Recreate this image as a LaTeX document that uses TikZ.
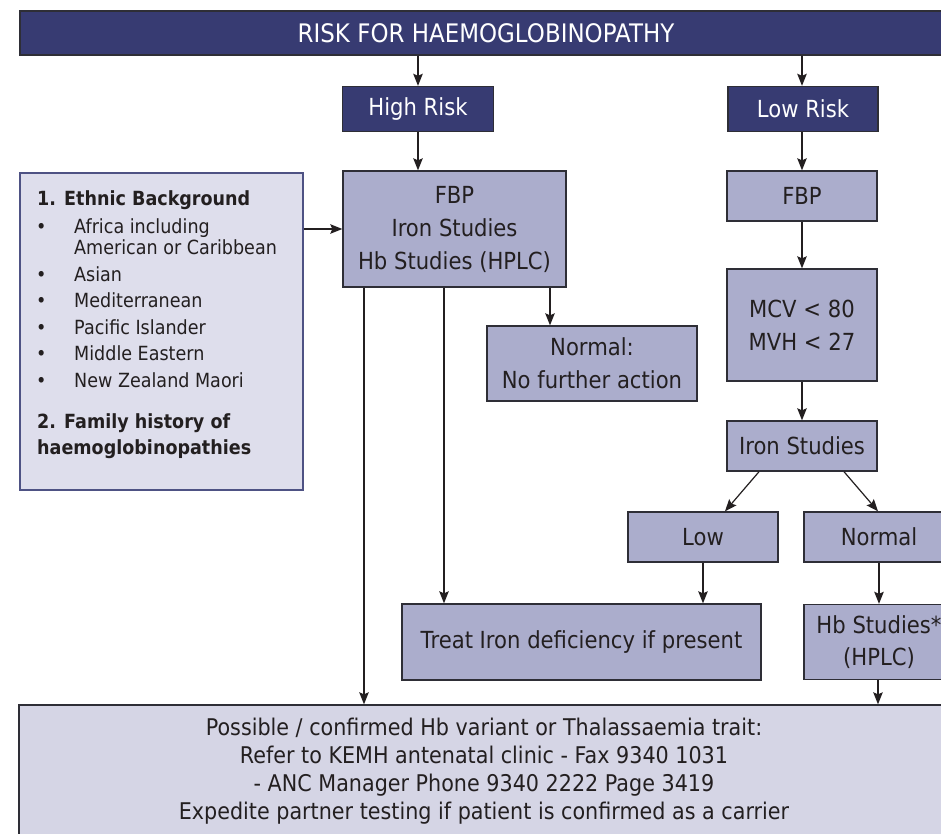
\documentclass[tikz,border=0pt]{standalone}
\usepackage{fontspec}
\setmainfont{DejaVu Sans}[FakeStretch=0.9]
\usetikzlibrary{arrows.meta,calc}
\definecolor{navy}{HTML}{373B72}
\definecolor{lav}{HTML}{ABADCC}
\definecolor{pale}{HTML}{DEDEEC}
\definecolor{paleb}{HTML}{D5D5E5}
\definecolor{ink}{HTML}{231F20}
\definecolor{edge}{HTML}{2E2E36}
\definecolor{leftedge}{HTML}{4E5284}
\begin{document}
\begin{tikzpicture}[x=1pt,y=-1pt,
  box/.style={draw=edge, line width=1.4pt, fill=lav, text=ink, align=center, inner sep=0pt, font=\fontsize{23.5}{33}\selectfont},
  dark/.style={box, fill=navy, text=white},
  arr/.style={draw=ink, line width=1.2pt, -{Stealth[length=12pt,width=9.5pt,inset=2pt]}},
  item/.style={anchor=base west, inner sep=0pt, text=ink, font=\fontsize{19.5}{21}\selectfont},
  bitem/.style={item, font=\fontsize{19.5}{21}\selectfont\bfseries}
]
\useasboundingbox (0,0) rectangle (941,833);
\clip (0,0) rectangle (941,833);
\fill[white] (0,0) rectangle (941,833);

% top level
\node[dark, minimum width=932pt, minimum height=44pt, font=\fontsize{25.5}{30}\selectfont] (title) at (486,33) {RISK FOR HAEMOGLOBINOPATHY};
\node[dark, minimum width=151pt, minimum height=45pt] (high) at (418,109) {High Risk};
\node[dark, minimum width=150pt, minimum height=45pt] (low) at (803,109) {Low Risk};

% high risk branch
\node[box, minimum width=223pt, minimum height=116pt] (hfbp) at (454.5,229) {FBP\\Iron Studies\\Hb Studies (HPLC)};
\node[box, minimum width=210pt, minimum height=75pt] (nrm) at (592,363.5) {Normal:\\No further action};
\node[box, minimum width=359pt, minimum height=76pt] (treat) at (581.5,642) {Treat Iron deficiency if present};

% low risk branch
\node[box, minimum width=150pt, minimum height=50pt] (lfbp) at (802,196) {FBP};
\node[box, minimum width=150pt, minimum height=112pt] (mcv) at (802,325) {MCV < 80\\MVH < 27};
\node[box, minimum width=150pt, minimum height=50pt] (iron) at (802,446) {Iron Studies};
\node[box, minimum width=150pt, minimum height=50pt] (lowi) at (703,537) {Low};
\node[box, minimum width=150pt, minimum height=50pt] (nrmi) at (879,537) {Normal};
\node[box, minimum width=150pt, minimum height=75pt, font=\fontsize{23.5}{32}\selectfont] (hbs) at (879,642) {Hb Studies*\\(HPLC)};

% bottom box
\node[box, fill=paleb, minimum width=930pt, minimum height=132pt, font=\fontsize{23}{28}\selectfont] (bot) at (484,771)
  {Possible / confirmed Hb variant or Thalassaemia trait:\\Refer to KEMH antenatal clinic - Fax 9340 1031\\- ANC Manager Phone 9340 2222 Page 3419\\Expedite partner testing if patient is confirmed as a carrier};

% left criteria box
\node[draw=leftedge, fill=pale, line width=1.4pt, minimum width=283pt, minimum height=317pt, inner sep=0pt] (eth) at (161.5,331.5) {};
\node[bitem] (e0) at (37,205) {1. Ethnic Background};
\node[item] (b1) at (36,233) {•};
\node[item] (e1) at (74,233) {Africa including};
\node[item] (e1b) at (74,254) {American or Caribbean};
\node[item] (b2) at (36,281) {•};
\node[item] (e2) at (74,281) {Asian};
\node[item] (b3) at (36,307) {•};
\node[item] (e3) at (74,307) {Mediterranean};
\node[item] (b4) at (36,334) {•};
\node[item] (e4) at (74,334) {Pacific Islander};
\node[item] (b5) at (36,360) {•};
\node[item] (e5) at (74,360) {Middle Eastern};
\node[item] (b6) at (36,387) {•};
\node[item] (e6) at (74,387) {New Zealand Maori};
\node[bitem] (f1) at (37,428) {2. Family history of};
\node[bitem] (f2) at (37,454) {haemoglobinopathies};

% connectors
\draw[arr] (title.south -| high.north) -- (high.north);
\draw[arr] (title.south -| lfbp.north) -- (low.north -| lfbp.north);
\draw[arr] (high.south) -- (high.south |- hfbp.north);
\draw[arr] (low.south -| lfbp.north) -- (lfbp.north);
\draw[arr] (eth.east |- hfbp.west) -- (hfbp.west);
\draw[arr] ([xshift=-42pt]nrm.north |- hfbp.south) -- ([xshift=-42pt]nrm.north);
\draw[arr] ([xshift=-137.5pt]treat.north |- hfbp.south) -- ([xshift=-137.5pt]treat.north);
\draw[arr] ([xshift=-120pt]bot.north |- hfbp.south) -- ([xshift=-120pt]bot.north);
\draw[arr] (lfbp) -- (mcv);
\draw[arr] (mcv) -- (iron);
\draw[arr] ([xshift=-43pt]iron.south) -- ([xshift=22pt]lowi.north);
\draw[arr] ([xshift=42pt]iron.south) -- ([xshift=-1pt]nrmi.north);
\draw[arr] (lowi.south) -- (lowi.south |- treat.north);
\draw[arr] (nrmi) -- (hbs);
\draw[arr] ([xshift=-1pt]hbs.south) -- ([xshift=-1pt]hbs.south |- bot.north);
\end{tikzpicture}
\end{document}
